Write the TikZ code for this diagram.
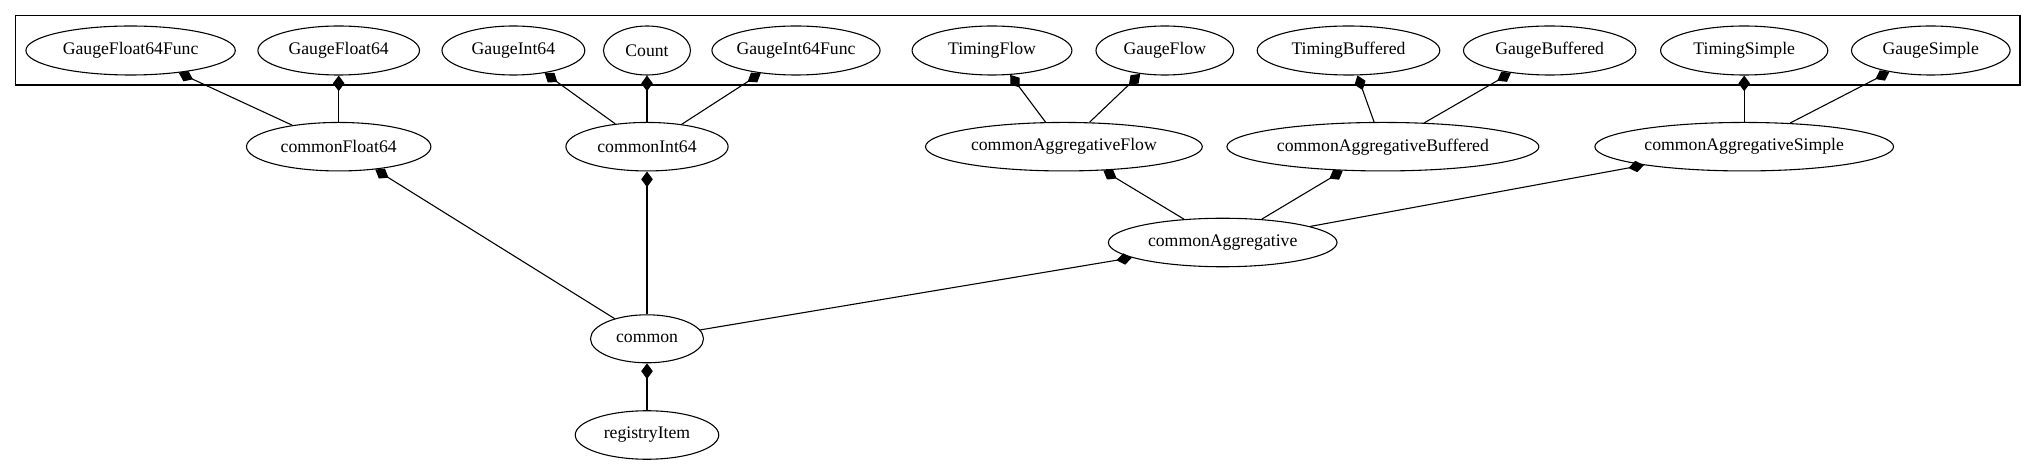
\documentclass[tikz,border=0pt]{standalone}
\usepackage{fontspec}
\setmainfont{Liberation Serif}
\usetikzlibrary{shapes.geometric,arrows.meta}
\begin{document}
\begin{tikzpicture}[x=0.7348pt,y=-0.7348pt,
  ell/.style 2 args={ellipse,draw,line width=0.8pt,inner sep=0pt,
    minimum width=#1*0.7348pt,minimum height=#2*0.7348pt,
    font=\fontsize{13}{15}\selectfont},
  comp/.style={draw,line width=0.8pt,-{Diamond[length=11.5pt,width=8.5pt]}},
  clusterbox/.style={draw,line width=0.9pt,rectangle,inner sep=0pt,
    minimum width=2004.4*0.7348pt,minimum height=69.3*0.7348pt}]
\useasboundingbox (0,0) rectangle (2036,464);
\node[clusterbox] (cluster) at (1017.8,50.35) {};
% top row
\node[ell={209.4}{49}] (GF64F) at (130.6,50.5) {GaugeFloat64Func};
\node[ell={161.6}{49}] (GF64) at (338.7,50.5) {GaugeFloat64};
\node[ell={142.8}{49}] (GI64) at (513.4,50.5) {GaugeInt64};
\node[ell={87}{49}] (Count) at (647,50.5) {Count};
\node[ell={160.7}{49}] (GI64F) at (796,50.5) {GaugeInt64Func};
\node[ell={159.8}{49}] (TF) at (992,50.5) {TimingFlow};
\node[ell={137.6}{49}] (GFl) at (1164.8,50.5) {GaugeFlow};
\node[ell={182.6}{49}] (TB) at (1348.5,50.5) {TimingBuffered};
\node[ell={172.4}{49}] (GB) at (1549.7,50.5) {GaugeBuffered};
\node[ell={167.2}{49}] (TS) at (1744.2,50.5) {TimingSimple};
\node[ell={158.6}{49}] (GS) at (1930.8,50.5) {GaugeSimple};
% second row
\node[ell={184.4}{48.5}] (cF64) at (338.7,146.7) {commonFloat64};
\node[ell={162.2}{48.5}] (cI64) at (647,146.7) {commonInt64};
\node[ell={276.8}{48.5}] (cAF) at (1063.9,146.7) {commonAggregativeFlow};
\node[ell={312}{48.5}] (cAB) at (1382.9,146.7) {commonAggregativeBuffered};
\node[ell={298.7}{48.5}] (cAS) at (1744.2,146.7) {commonAggregativeSimple};
% lower
\node[ell={228.6}{48.5}] (cA) at (1222.7,242.5) {commonAggregative};
\node[ell={113}{48}] (common) at (647,338.8) {common};
\node[ell={143.5}{48.5}] (reg) at (647,435) {registryItem};
% edges
\draw[comp] (cF64) -- (GF64F);
\draw[comp] (cF64) -- (GF64);
\draw[comp] (cI64) -- (GI64);
\draw[comp] (cI64) -- (Count);
\draw[comp] (cI64) -- (GI64F);
\draw[comp] (cAF) -- (TF);
\draw[comp] (cAF) -- (GFl);
\draw[comp] (cAB) -- (TB);
\draw[comp] (cAB) -- (GB);
\draw[comp] (cAS) -- (TS);
\draw[comp] (cAS) -- (GS);
\draw[comp] (cA) -- (cAF);
\draw[comp] (cA) -- (cAB);
\draw[comp] (cA) -- (cAS);
\draw[comp] (common) -- (cF64);
\draw[comp] (common) -- (cI64);
\draw[comp] (common) -- (cA);
\draw[comp] (reg) -- (common);
\end{tikzpicture}
\end{document}
